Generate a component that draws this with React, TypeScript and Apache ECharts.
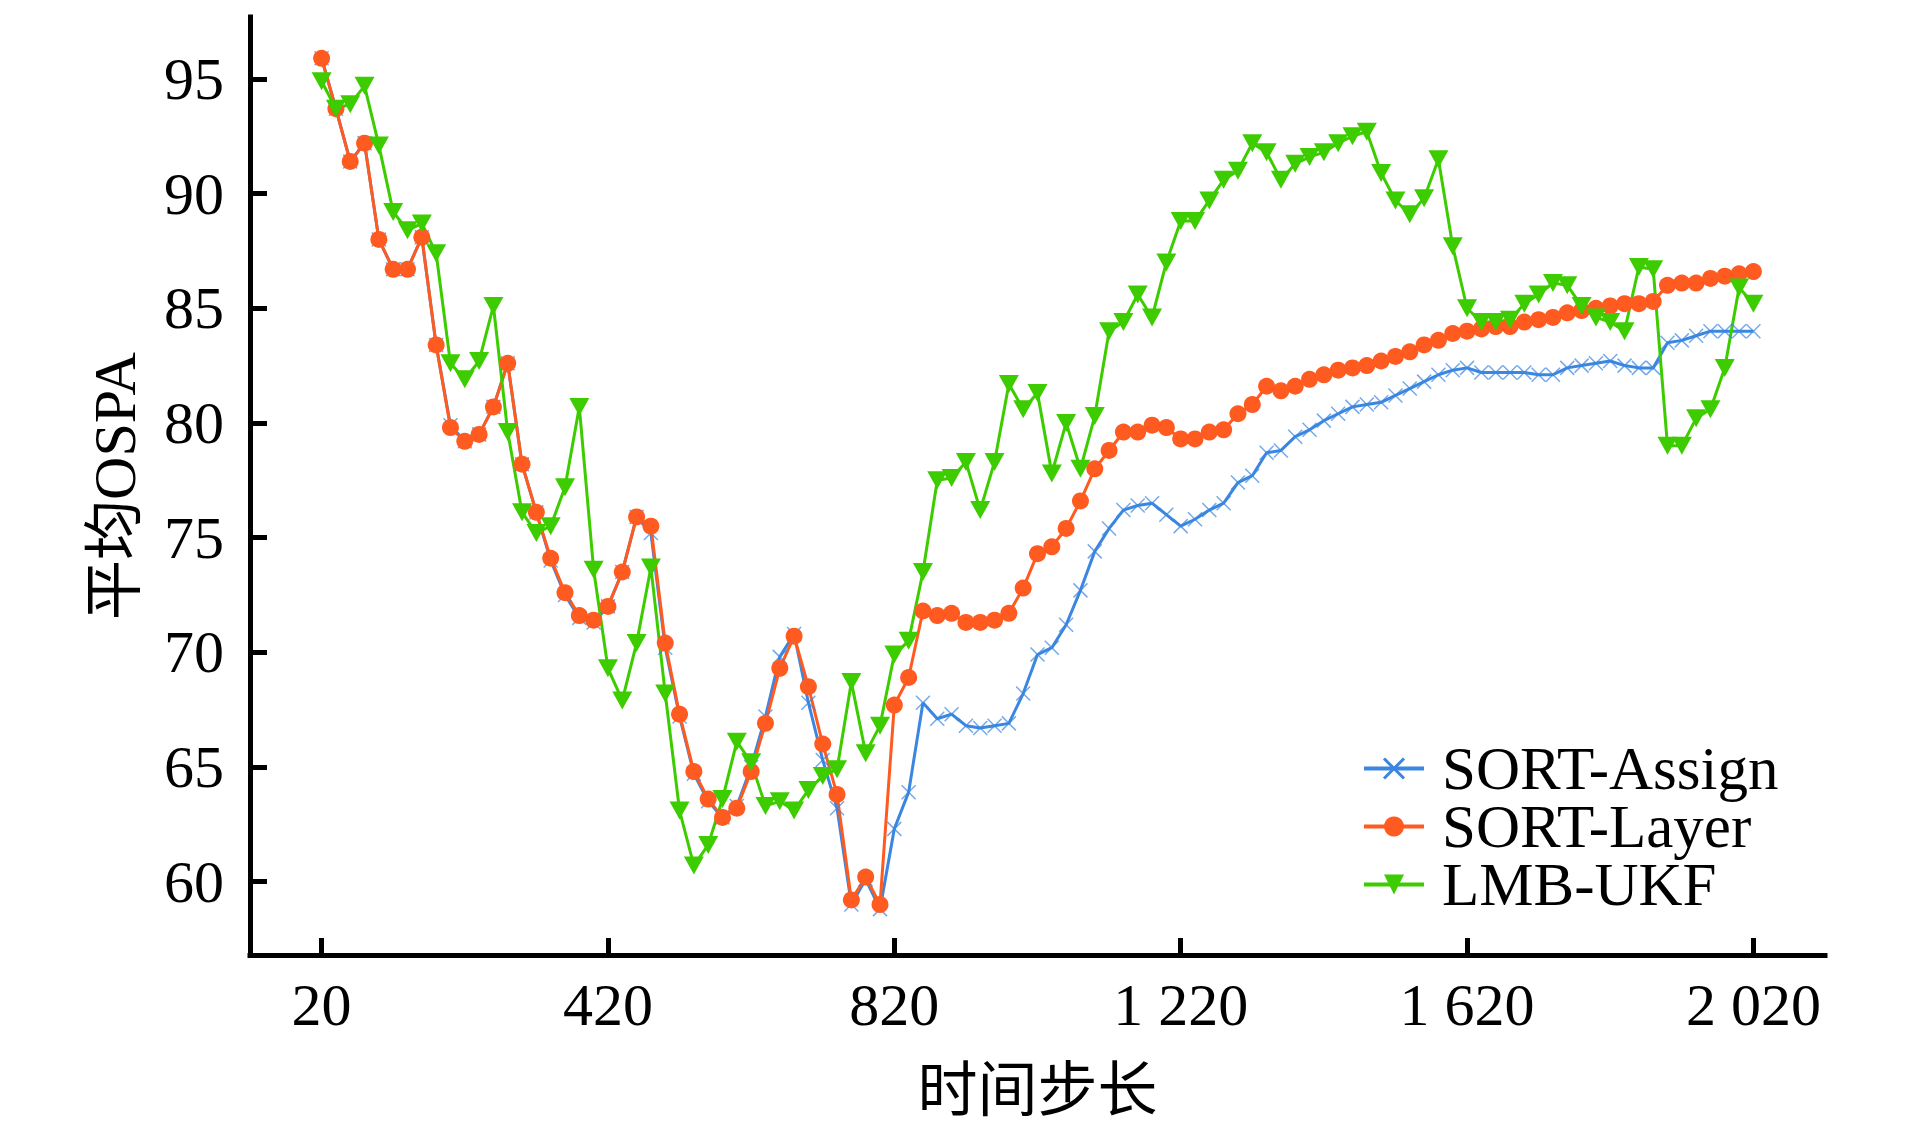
import React, { useEffect, useRef } from 'react';
import * as echarts from 'echarts';

const timeSteps = [
  20, 40, 60, 80, 100, 120, 140, 160, 180, 200,
  220, 240, 260, 280, 300, 320, 340, 360, 380, 400,
  420, 440, 460, 480, 500, 520, 540, 560, 580, 600,
  620, 640, 660, 680, 700, 720, 740, 760, 780, 800,
  820, 840, 860, 880, 900, 920, 940, 960, 980, 1000,
  1020, 1040, 1060, 1080, 1100, 1120, 1140, 1160, 1180, 1200,
  1220, 1240, 1260, 1280, 1300, 1320, 1340, 1360, 1380, 1400,
  1420, 1440, 1460, 1480, 1500, 1520, 1540, 1560, 1580, 1600,
  1620, 1640, 1660, 1680, 1700, 1720, 1740, 1760, 1780, 1800,
  1820, 1840, 1860, 1880, 1900, 1920, 1940, 1960, 1980, 2000,
  2020,
];

const sortAssign = [
  95.9, 93.7, 91.4, 92.2, 88.0, 86.7, 86.7, 88.1, 83.4, 79.9,
  79.2, 79.5, 80.7, 82.6, 78.2, 76.1, 74.0, 72.5, 71.5, 71.3,
  72.0, 73.5, 75.9, 75.2, 70.2, 67.2, 64.7, 63.5, 62.8, 63.3,
  65.0, 67.2, 69.8, 70.8, 67.8, 65.3, 63.2, 59.0, 60.1, 58.8,
  62.3, 63.9, 67.8, 67.1, 67.3, 66.8, 66.7, 66.8, 66.9, 68.2,
  69.9, 70.2, 71.2, 72.7, 74.4, 75.4, 76.2, 76.4, 76.5, 76.0,
  75.5, 75.8, 76.2, 76.5, 77.4, 77.7, 78.7, 78.8, 79.4, 79.7,
  80.1, 80.4, 80.7, 80.8, 80.9, 81.2, 81.5, 81.8, 82.1, 82.3,
  82.4, 82.2, 82.2, 82.2, 82.2, 82.1, 82.1, 82.4, 82.5, 82.6,
  82.7, 82.5, 82.4, 82.4, 83.5, 83.6, 83.8, 84.0, 84.0, 84.0,
  84.0,
];

const sortLayer = [
  95.9, 93.7, 91.4, 92.2, 88.0, 86.7, 86.7, 88.1, 83.4, 79.8,
  79.2, 79.5, 80.7, 82.6, 78.2, 76.1, 74.1, 72.6, 71.6, 71.4,
  72.0, 73.5, 75.9, 75.5, 70.4, 67.3, 64.8, 63.6, 62.8, 63.2,
  64.8, 66.9, 69.3, 70.7, 68.5, 66.0, 63.8, 59.2, 60.2, 59.0,
  67.7, 68.9, 71.8, 71.6, 71.7, 71.3, 71.3, 71.4, 71.7, 72.8,
  74.3, 74.6, 75.4, 76.6, 78.0, 78.8, 79.6, 79.6, 79.9, 79.8,
  79.3, 79.3, 79.6, 79.7, 80.4, 80.8, 81.6, 81.4, 81.6, 81.9,
  82.1, 82.3, 82.4, 82.5, 82.7, 82.9, 83.1, 83.4, 83.6, 83.9,
  84.0, 84.1, 84.2, 84.2, 84.4, 84.5, 84.6, 84.8, 84.9, 85.0,
  85.1, 85.2, 85.2, 85.3, 86.0, 86.1, 86.1, 86.3, 86.4, 86.5,
  86.6,
];

const lmbUkf = [
  94.9, 93.7, 93.9, 94.7, 92.1, 89.2, 88.4, 88.7, 87.4, 82.6,
  81.9, 82.7, 85.1, 79.6, 76.1, 75.2, 75.5, 77.2, 80.7, 73.6,
  69.3, 67.9, 70.4, 73.7, 68.2, 63.1, 60.7, 61.6, 63.6, 66.1,
  65.2, 63.3, 63.5, 63.1, 64.0, 64.6, 64.9, 68.7, 65.6, 66.8,
  69.9, 70.5, 73.5, 77.5, 77.6, 78.3, 76.2, 78.3, 81.7, 80.6,
  81.3, 77.8, 80.0, 78.0, 80.3, 84.0, 84.4, 85.6, 84.6, 87.0,
  88.8, 88.8, 89.7, 90.6, 91.0, 92.2, 91.8, 90.6, 91.3, 91.6,
  91.8, 92.2, 92.5, 92.7, 90.9, 89.7, 89.1, 89.8, 91.5, 87.7,
  85.0, 84.4, 84.4, 84.5, 85.2, 85.6, 86.1, 86.0, 85.1, 84.6,
  84.4, 84.0, 86.8, 86.7, 79.0, 79.0, 80.2, 80.6, 82.4, 85.9,
  85.2,
];

const seriesNames = ['SORT-Assign', 'SORT-Layer', 'LMB-UKF'];
const xTickValues = [20, 420, 820, 1220, 1620, 2020];
const yTickValues = [60, 65, 70, 75, 80, 85, 90, 95];
const xAxisTitle = '时间步长';
const yAxisTitle = '平均OSPA';

const FONT = "'Liberation Serif', 'Noto Sans CJK SC', serif";
const BLUE = '#3a86e0';
const ORANGE = '#ff5a1f';
const GREEN = '#3ccc00';

function formatStep(v: number): string {
  if (v >= 1000) {
    const th = Math.floor(v / 1000);
    const rest = String(v % 1000).padStart(3, '0');
    return th + ' ' + rest;
  }
  return String(v);
}

export default function App() {
  const ref = useRef<HTMLDivElement>(null);

  useEffect(() => {
    if (!ref.current) return;
    const chart = echarts.init(ref.current, undefined, { renderer: 'svg' });
    const pairs = (vals: number[]) => timeSteps.map((t, i) => [t, vals[i]]);

    const axisLineStyle = { color: '#000', width: 5, cap: 'square' };

    const option: any = {
      animation: false,
      backgroundColor: '#ffffff',
      textStyle: { fontFamily: FONT },
      grid: {
        left: 250,
        right: 88,
        top: 17,
        bottom: 179,
        containLabel: false,
        outerBoundsMode: 'none',
      },
      legend: {
        orient: 'vertical',
        left: 1362,
        top: 738,
        padding: 0,
        itemGap: -3,
        itemWidth: 60,
        itemHeight: 25,
        lineStyle: { width: 4 },
        textStyle: {
          fontSize: 61,
          color: '#000',
          fontFamily: FONT,
          lineHeight: 57,
          padding: [0, 0, 0, 13],
        },
        data: [
          { name: seriesNames[0], itemStyle: { borderWidth: 3, opacity: 1 } },
          { name: seriesNames[1] },
          { name: seriesNames[2] },
        ],
      },
      xAxis: {
        type: 'value',
        min: -80,
        max: 2120,
        name: xAxisTitle,
        nameLocation: 'middle',
        nameGap: 106,
        nameTextStyle: { fontSize: 60, color: '#000', fontFamily: FONT },
        axisLine: { show: true, onZero: false, lineStyle: axisLineStyle },
        axisTick: {
          show: true,
          inside: true,
          length: 17,
          customValues: xTickValues,
          lineStyle: { color: '#000', width: 5 },
        },
        axisLabel: {
          customValues: xTickValues,
          formatter: (v: number) => formatStep(v),
          fontSize: 60,
          color: '#000',
          fontFamily: FONT,
          margin: 20,
        },
        splitLine: { show: false },
      },
      yAxis: {
        type: 'value',
        min: 56.8,
        max: 97.7,
        name: yAxisTitle,
        nameLocation: 'middle',
        nameGap: 105,
        nameRotate: 90,
        nameTextStyle: { fontSize: 60, color: '#000', fontFamily: FONT },
        axisLine: { show: true, onZero: false, lineStyle: axisLineStyle },
        axisTick: {
          show: true,
          inside: true,
          length: 17,
          customValues: yTickValues,
          lineStyle: { color: '#000', width: 5 },
        },
        axisLabel: {
          customValues: yTickValues,
          fontSize: 60,
          color: '#000',
          fontFamily: FONT,
          margin: 26,
        },
        splitLine: { show: false },
      },
      series: [
        {
          name: seriesNames[0],
          type: 'line',
          data: pairs(sortAssign),
          symbol: 'path://M0,0L10,10M10,0L0,10',
          symbolSize: 14,
          color: BLUE,
          lineStyle: { width: 3, color: BLUE },
          itemStyle: { color: BLUE, borderColor: BLUE, borderWidth: 1.5, opacity: 0.7 },
          emphasis: { disabled: true },
        },
        {
          name: seriesNames[1],
          type: 'line',
          data: pairs(sortLayer),
          symbol: 'circle',
          symbolSize: 17,
          color: ORANGE,
          lineStyle: { width: 3, color: ORANGE },
          itemStyle: { color: ORANGE },
          emphasis: { disabled: true },
        },
        {
          name: seriesNames[2],
          type: 'line',
          data: pairs(lmbUkf),
          symbol: 'triangle',
          symbolRotate: 180,
          symbolSize: [20, 18],
          color: GREEN,
          lineStyle: { width: 3, color: GREEN },
          itemStyle: { color: GREEN },
          emphasis: { disabled: true },
        },
      ],
    };

    chart.setOption(option);
    return () => {
      chart.dispose();
    };
  }, []);

  return (
    <div
      ref={ref}
      style={{ position: 'absolute', left: 0, top: 0, width: 1913, height: 1134, background: '#fff' }}
    />
  );
}
